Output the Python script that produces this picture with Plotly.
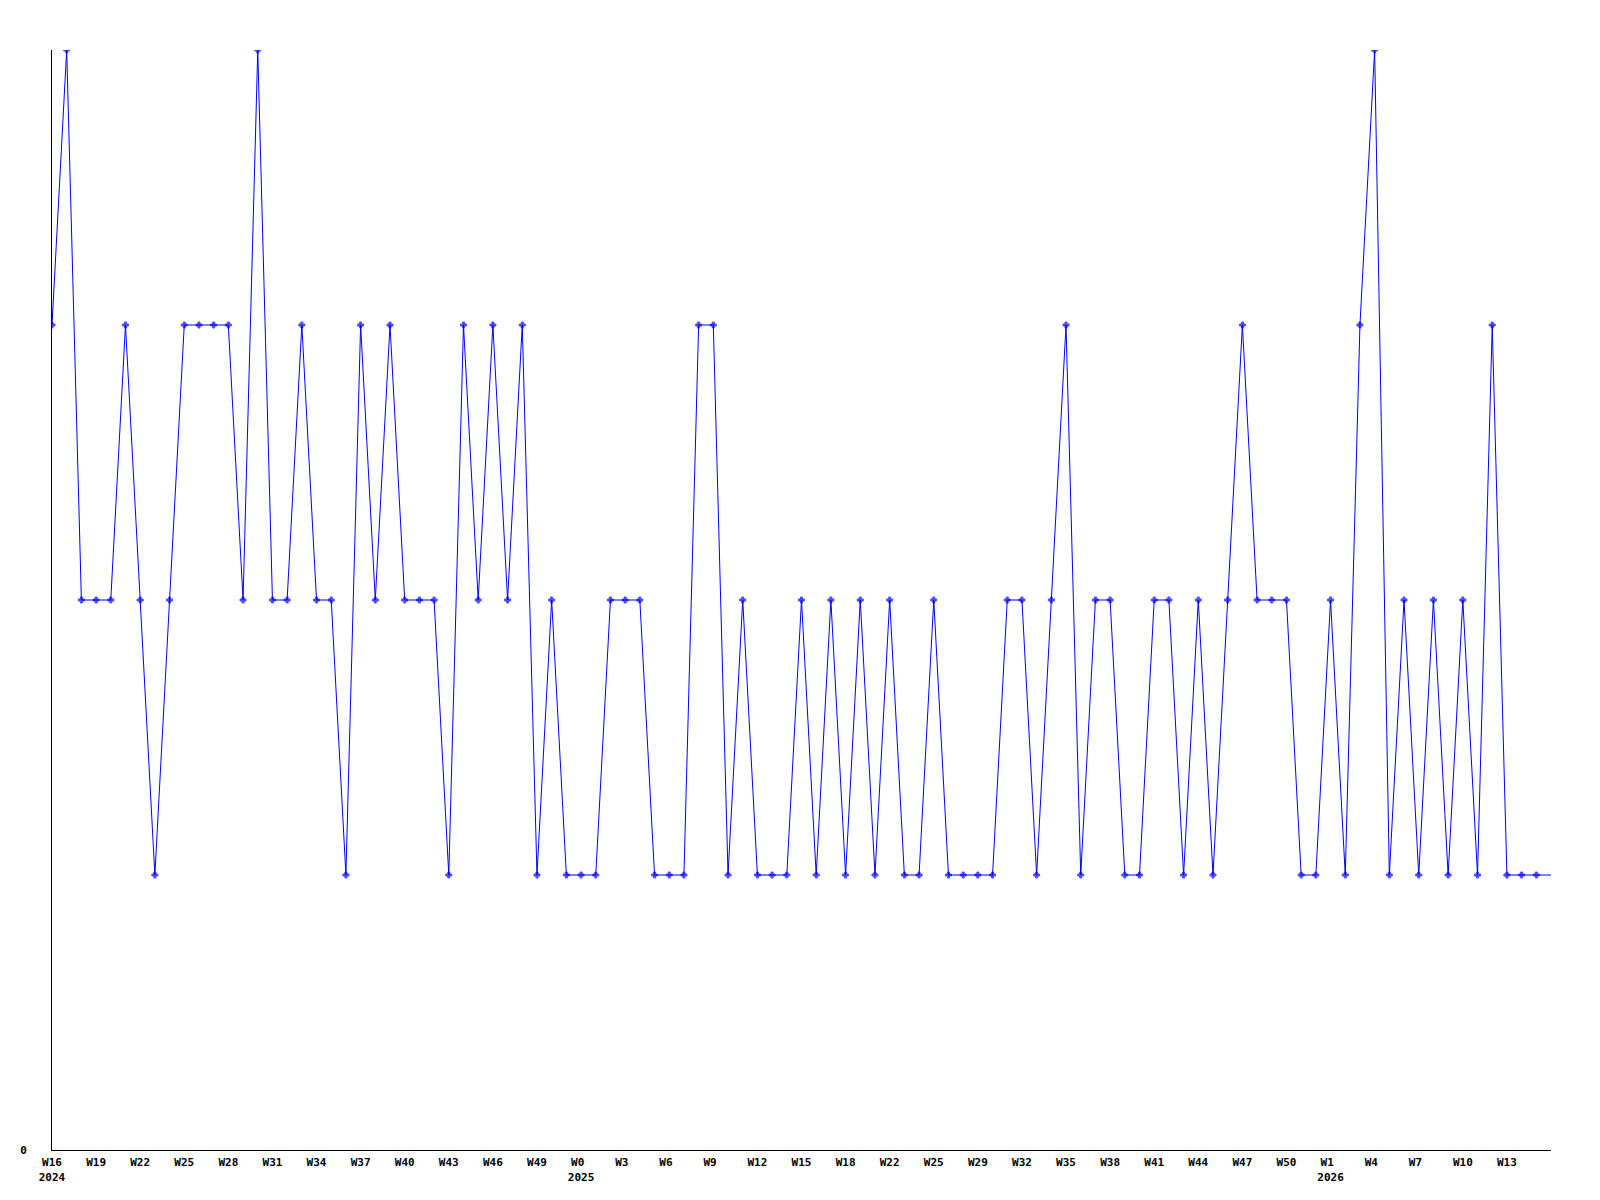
import plotly.graph_objects as go

# weekly counts, W16 2024 .. W15 2026 (one point per week)
values = [
    3, 4, 2, 2, 2, 3, 2, 1, 2, 3,
    3, 3, 3, 2, 4, 2, 2, 3, 2, 2,
    1, 3, 2, 3, 2, 2, 2, 1, 3, 2,
    3, 2, 3, 1, 2, 1, 1, 1, 2, 2,
    2, 1, 1, 1, 3, 3, 1, 2, 1, 1,
    1, 2, 1, 2, 1, 2, 1, 2, 1, 1,
    2, 1, 1, 1, 1, 2, 2, 1, 2, 3,
    1, 2, 2, 1, 1, 2, 2, 1, 2, 1,
    2, 3, 2, 2, 2, 1, 1, 2, 1, 3,
    4, 1, 2, 1, 2, 1, 2, 1, 3, 1,
    1, 1, 1,
]

tick_labels = [
    "W16<br>2024", "W19", "W22", "W25", "W28", "W31", "W34", "W37", "W40",
    "W43", "W46", "W49", "W0\u00a0<br>2025", "W3\u00a0", "W6\u00a0", "W9\u00a0",
    "W12", "W15", "W18", "W22", "W25", "W29", "W32", "W35", "W38", "W41",
    "W44", "W47", "W50", "W1\u00a0<br>2026", "W4\u00a0", "W7\u00a0", "W10", "W13",
]

x = list(range(len(values)))
tick_vals = x[::3][:len(tick_labels)]

# last week is still running: no marker on it
marker_sizes = [5] * (len(values) - 1) + [0]
marker_lines = [1] * (len(values) - 1) + [0]

font = dict(family="DejaVu Sans Mono", size=11, color="black", weight="bold")

fig = go.Figure(go.Scatter(
    x=x,
    y=values,
    mode="lines+markers",
    line=dict(color="#0000ff", width=1),
    marker=dict(symbol="cross", size=marker_sizes, color="#0000ff",
                line=dict(width=marker_lines, color="#0000ff")),
    hoverinfo="y",
))

# page body adds 8px, margins are set so the plot lands where the original does
fig.update_layout(
    width=1600,
    height=1200,
    margin=dict(l=42, r=57, t=42, b=58),
    paper_bgcolor="white",
    plot_bgcolor="white",
    showlegend=False,
    font=font,
)

fig.update_xaxes(
    range=[0, len(values) - 1],
    tickvals=tick_vals,
    ticktext=tick_labels,
    tickangle=0,
    tickfont=font,
    ticks="",
    ticklabelstandoff=2,
    showgrid=False,
    zeroline=False,
    showline=True,
    linecolor="black",
    linewidth=1,
)

fig.update_yaxes(
    range=[0, 4],
    tickvals=[0],
    ticktext=["0"],
    tickfont=font,
    ticks="",
    ticklabelstandoff=22,
    showgrid=False,
    zeroline=False,
    showline=True,
    linecolor="black",
    linewidth=1,
)

fig.write_html("out.html")
